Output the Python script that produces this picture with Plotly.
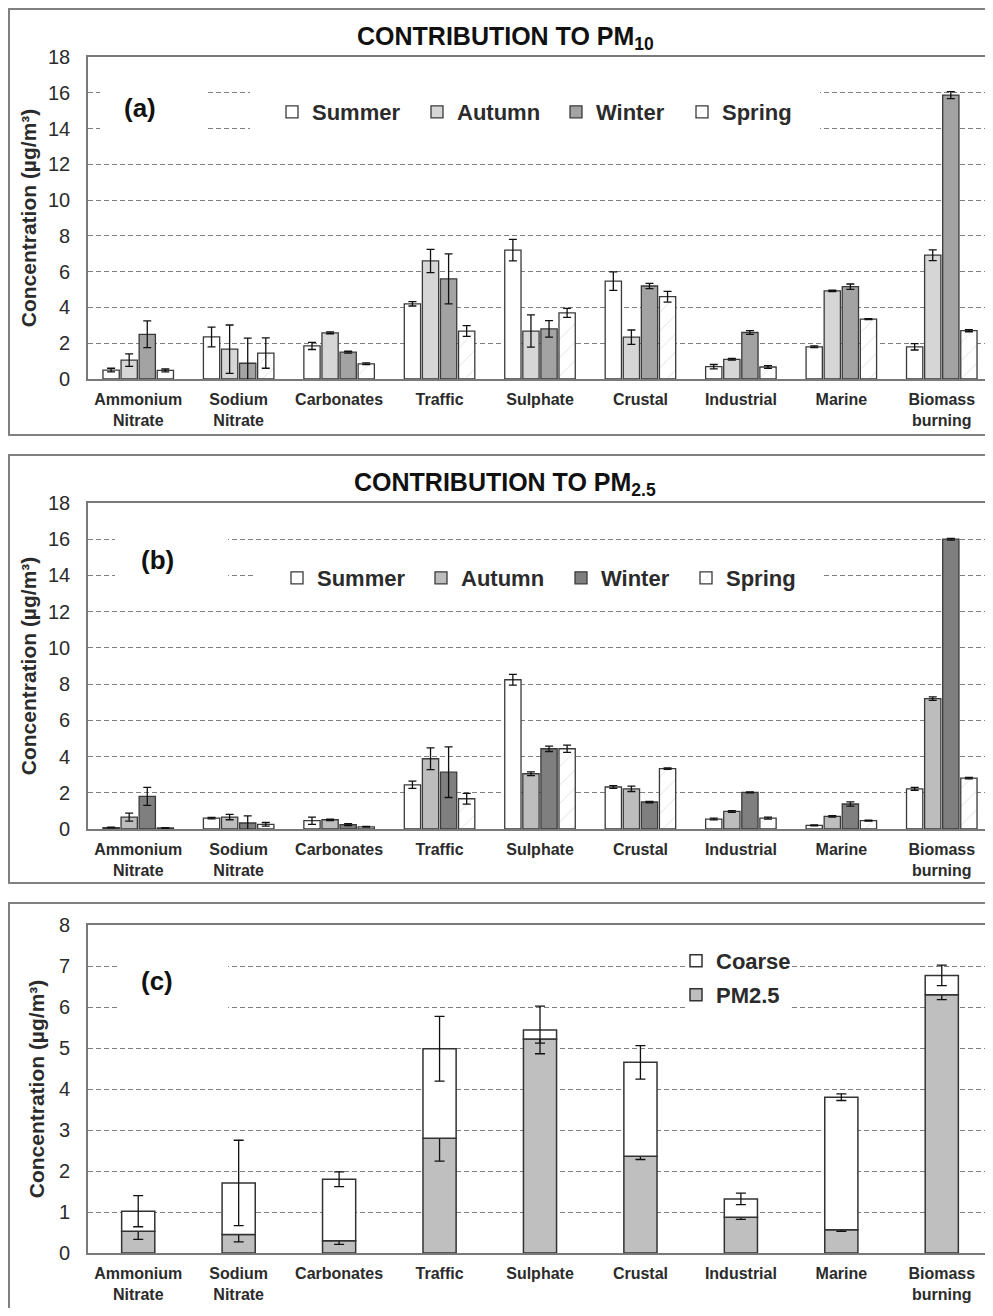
import plotly.graph_objects as go

# ---------------- data ----------------
categories = ["Ammonium<br>Nitrate", "Sodium<br>Nitrate", "Carbonates", "Traffic",
              "Sulphate", "Crustal", "Industrial", "Marine", "Biomass<br>burning"]
seasons = ["Summer", "Autumn", "Winter", "Spring"]

# (a) contribution to PM10
summer_a = [0.50, 2.35, 1.85, 4.20, 7.20, 5.47, 0.69, 1.80, 1.80]
summer_a_err = [0.10, 0.55, 0.20, 0.12, 0.60, 0.52, 0.12, 0.05, 0.18]
autumn_a = [1.06, 1.67, 2.58, 6.60, 2.68, 2.34, 1.10, 4.93, 6.92]
autumn_a_err = [0.35, 1.35, 0.05, 0.65, 0.90, 0.40, 0.05, 0.04, 0.30]
winter_a = [2.50, 0.88, 1.50, 5.60, 2.80, 5.20, 2.60, 5.16, 15.87]
winter_a_err = [0.75, 1.40, 0.05, 1.40, 0.46, 0.15, 0.10, 0.15, 0.20]
spring_a = [0.48, 1.45, 0.85, 2.68, 3.70, 4.60, 0.67, 3.35, 2.70]
spring_a_err = [0.08, 0.85, 0.05, 0.30, 0.25, 0.30, 0.08, 0.03, 0.06]

# (b) contribution to PM2.5
summer_b = [0.08, 0.60, 0.46, 2.44, 8.24, 2.32, 0.55, 0.20, 2.22]
summer_b_err = [0.02, 0.04, 0.20, 0.20, 0.30, 0.08, 0.05, 0.02, 0.08]
autumn_b = [0.66, 0.66, 0.51, 3.88, 3.05, 2.22, 0.97, 0.70, 7.20]
autumn_b_err = [0.22, 0.15, 0.04, 0.60, 0.10, 0.15, 0.05, 0.04, 0.10]
winter_b = [1.80, 0.33, 0.24, 3.14, 4.43, 1.49, 2.02, 1.38, 16.00]
winter_b_err = [0.50, 0.40, 0.05, 1.40, 0.15, 0.04, 0.03, 0.12, 0.05]
spring_b = [0.06, 0.26, 0.12, 1.67, 4.43, 3.33, 0.60, 0.46, 2.81]
spring_b_err = [0.02, 0.10, 0.02, 0.30, 0.20, 0.04, 0.06, 0.03, 0.04]

# (c) annual: PM2.5 and coarse fraction (stacked)
pm25_c = [0.53, 0.45, 0.30, 2.80, 5.22, 2.36, 0.87, 0.57, 6.30]
pm25_c_err = [0.20, 0.18, 0.09, 0.56, 0.10, 0.08, 0.05, 0.04, 0.12]
coarse_c = [0.49, 1.26, 1.50, 2.18, 0.22, 2.29, 0.45, 3.23, 0.47]
coarse_c_err = [0.38, 1.04, 0.18, 0.79, 0.58, 0.41, 0.14, 0.08, 0.25]

yticks_ab = [0, 2, 4, 6, 8, 10, 12, 14, 16, 18]
yticks_c = [0, 1, 2, 3, 4, 5, 6, 7, 8]

# ---------------- layout helpers (pixel geometry of the page) ----------------
OFF = 8                      # default body margin of the html page
W, H = 993 - OFF, 1316 - 2 * OFF
F = "Liberation Sans, Arial, sans-serif"
TXT = "#2b2b2b"


def px(x):
    return (x - OFF) / W


def py(y):
    return 1 - (y - OFF) / H


PL, PR = 88, 992
panels = {"a": (57, 379, 18), "b": (503, 829, 18), "c": (925, 1253, 8)}

fig = go.Figure()

fill_a = ["white", "#d6d6d6", "#a3a3a3", "white"]
fill_b = ["white", "#bdbdbd", "#7f7f7f", "white"]
vals_a = [summer_a, autumn_a, winter_a, spring_a]
errs_a = [summer_a_err, autumn_a_err, winter_a_err, spring_a_err]
vals_b = [summer_b, autumn_b, winter_b, spring_b]
errs_b = [summer_b_err, autumn_b_err, winter_b_err, spring_b_err]

legend_pos_a = [297, 442, 581, 707]
legend_pos_b = [302, 446, 586, 711]
legends = {}
n_leg = 0


def new_legend(cx, cy):
    global n_leg
    n_leg += 1
    name = "legend" if n_leg == 1 else f"legend{n_leg}"
    legends[name] = dict(
        x=px(cx - 25), y=py(cy), xanchor="left", yanchor="middle",
        orientation="h", bgcolor="rgba(0,0,0,0)", borderwidth=0,
        itemwidth=30, font=dict(family=F, size=22, color=TXT, weight="bold"),
        visible=True,
    )
    return name


def add_season_bars(vals, errs, fills, xa, ya, leg_x, leg_y):
    for i, s in enumerate(seasons):
        pattern = None
        if s == "Spring":
            pattern = dict(shape="/", fgcolor="#b5b5b5", bgcolor="white",
                           size=13, solidity=0.06)
        fig.add_trace(go.Bar(
            x=categories, y=vals[i], name=s, xaxis=xa, yaxis=ya, showlegend=True,
            marker=dict(color=fills[i], line=dict(color="#3a3a3a", width=1.3),
                        pattern=pattern),
            error_y=dict(type="data", array=errs[i], color="#111", thickness=1.3, width=4),
            legend=new_legend(leg_x[i], leg_y),
        ))


add_season_bars(vals_a, errs_a, fill_a, "x", "y", legend_pos_a, 112)
add_season_bars(vals_b, errs_b, fill_b, "x2", "y2", legend_pos_b, 578)

fig.add_trace(go.Bar(
    x=categories, y=pm25_c, name="PM2.5", xaxis="x3", yaxis="y3", showlegend=True,
    width=0.33, offset=-0.165,
    marker=dict(color="#bfbfbf", line=dict(color="#333", width=1.5)),
    error_y=dict(type="data", array=pm25_c_err, color="#111", thickness=1.3, width=5),
    legend=new_legend(701, 995),
))
fig.add_trace(go.Bar(
    x=categories, y=coarse_c, base=pm25_c, name="Coarse", xaxis="x3", yaxis="y3",
    showlegend=True, width=0.33, offset=-0.165,
    marker=dict(color="white", line=dict(color="#333", width=1.5)),
    error_y=dict(type="data", array=coarse_c_err, color="#111", thickness=1.3, width=5),
    legend=new_legend(701, 961),
))

# ---------------- axes ----------------
axis_common = dict(showline=True, linecolor="#7a7a7a", linewidth=1.6, mirror=True, ticks="")


def xaxis_cfg(anchor):
    return dict(domain=[px(PL), px(PR)], anchor=anchor, type="category",
                categoryorder="array", categoryarray=categories, showgrid=False,
                tickfont=dict(family=F, size=16, color=TXT, weight="bold"),
                ticklabelstandoff=5, **axis_common)


def yaxis_cfg(key, anchor, ticks, standoff):
    top, bot, ymax = panels[key]
    return dict(domain=[py(bot), py(top)], anchor=anchor, range=[0, ymax],
                tickvals=ticks, showgrid=True, gridcolor="#7f7f7f", gridwidth=1.3,
                griddash="5px,3px", zeroline=False,
                tickfont=dict(family=F, size=20, color=TXT),
                ticklabelstandoff=12,
                title=dict(text="Concentration (µg/m³)", standoff=standoff,
                           font=dict(family=F, size=21, color=TXT, weight="bold")),
                **axis_common)


layout = dict(
    width=W, height=H, autosize=False, showlegend=True,
    margin=dict(l=0, r=0, t=0, b=0, autoexpand=False),
    paper_bgcolor="white", plot_bgcolor="white",
    barmode="group", bargap=0.28, bargroupgap=0.1,
    xaxis=xaxis_cfg("y"), xaxis2=xaxis_cfg("y2"), xaxis3=xaxis_cfg("y3"),
    yaxis=yaxis_cfg("a", "x", yticks_ab, 6),
    yaxis2=yaxis_cfg("b", "x2", yticks_ab, 6),
    yaxis3=yaxis_cfg("c", "x3", yticks_c, 9),
)
layout.update(legends)
fig.update_layout(**layout)

# ---------------- titles / panel labels ----------------
anns = [
    dict(text="CONTRIBUTION TO PM<sub>10</sub>", x=px(505), y=py(38)),
    dict(text="CONTRIBUTION TO PM<sub>2.5</sub>", x=px(505), y=py(484)),
]
for a in anns:
    fig.add_annotation(xref="paper", yref="paper", showarrow=False,
                       xanchor="center", yanchor="middle",
                       font=dict(family=F, size=25, color="#111", weight="bold"), **a)
for lbl, x, y in [("(a)", 140, 108), ("(b)", 157, 560), ("(c)", 157, 981)]:
    fig.add_annotation(text=lbl, xref="paper", yref="paper", x=px(x), y=py(y),
                       showarrow=False, xanchor="center", yanchor="middle",
                       font=dict(family=F, size=26, color="#111", weight="bold"))

# ---------------- white gaps in the gridlines behind labels ----------------
gaps = {
    "a": [(100, 208, 85, 137), (250, 820, 85, 137)],
    "b": [(115, 228, 530, 586), (253, 823, 566, 590)],
    "c": [(118, 228, 955, 1016), (687, 792, 955, 1016)],
}
refs = {"a": ("x", "y"), "b": ("x2", "y2"), "c": ("x3", "y3")}
cat_w = (PR - PL) / len(categories)
for key, boxes in gaps.items():
    top, bot, ymax = panels[key]
    xr, yr = refs[key]
    for x0, x1, y0, y1 in boxes:
        fig.add_shape(type="rect", xref=xr, yref=yr, layer="between",
                      x0=(x0 - PL) / cat_w - 0.5, x1=(x1 - PL) / cat_w - 0.5,
                      y0=(bot - y1) / (bot - top) * ymax, y1=(bot - y0) / (bot - top) * ymax,
                      fillcolor="white", line=dict(width=0))

# ---------------- panel frames ----------------
for x0, y0, x1, y1 in [(9, 9, 1000, 435), (9, 455, 1000, 883), (9, 903, 1000, 1340)]:
    fig.add_shape(type="rect", xref="paper", yref="paper", layer="below",
                  x0=px(x0), x1=px(x1), y0=py(y1), y1=py(y0),
                  line=dict(color="#808080", width=2), fillcolor="rgba(0,0,0,0)")

fig.write_html("out.html")
